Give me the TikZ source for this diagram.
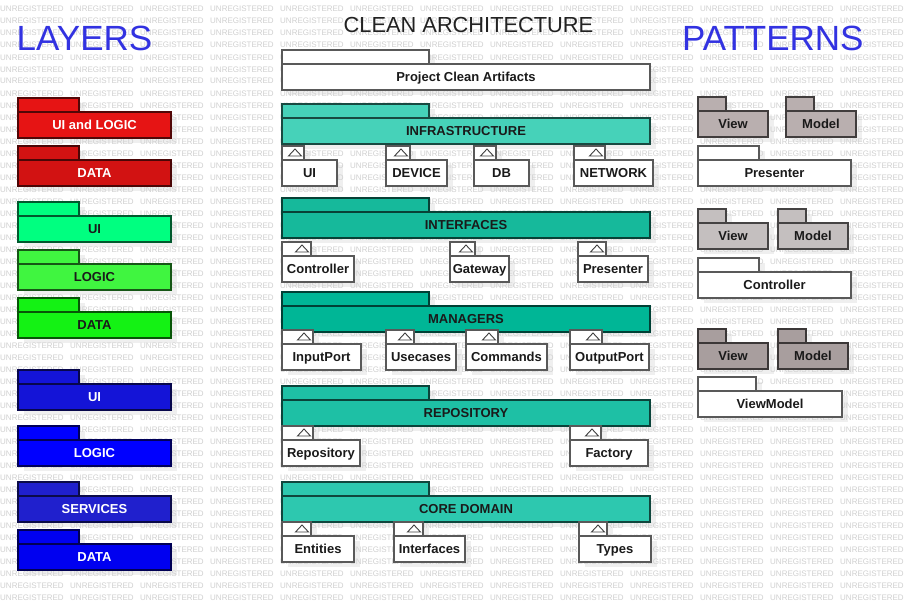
\documentclass[tikz,border=0pt]{standalone}
\usepackage{fontspec}
\setmainfont{Liberation Sans}
\setsansfont{Liberation Sans}
\usetikzlibrary{calc}
\definecolor{cRedA}{RGB}{230,20,20}
\definecolor{cRedB}{RGB}{210,18,18}
\definecolor{cGrnA}{RGB}{0,255,128}
\definecolor{cGrnB}{RGB}{64,245,64}
\definecolor{cGrnC}{RGB}{20,242,20}
\definecolor{cBluA}{RGB}{20,20,215}
\definecolor{cBluB}{RGB}{0,0,255}
\definecolor{cBluC}{RGB}{32,32,205}
\definecolor{cBluD}{RGB}{0,0,240}
\definecolor{cTealA}{RGB}{70,210,185}
\definecolor{cTealB}{RGB}{22,185,155}
\definecolor{cTealC}{RGB}{0,182,150}
\definecolor{cTealD}{RGB}{30,192,165}
\definecolor{cTealE}{RGB}{45,200,175}
\definecolor{cGrayA}{RGB}{185,175,175}
\definecolor{cGrayB}{RGB}{196,191,191}
\definecolor{cGrayC}{RGB}{168,158,158}
\definecolor{txtdark}{RGB}{26,26,26}
\definecolor{titlecol}{RGB}{34,34,34}
\definecolor{headblue}{RGB}{50,50,225}
\definecolor{wmcol}{RGB}{208,208,208}
\definecolor{shadowcol}{RGB}{239,239,239}
\pgfdeclarelayer{bg}
\pgfdeclarelayer{shadow}
\pgfdeclarelayer{wmark}
\pgfsetlayers{bg,shadow,wmark,main}
\tikzset{
  pkgtab/.style={line width=1.1pt, inner sep=0pt, outer sep=0pt, anchor=north west, minimum height=14pt},
  pkgbody/.style={line width=1.1pt, inner sep=0pt, outer sep=0pt, anchor=north west, minimum height=26pt,
    font=\sffamily\bfseries\fontsize{13}{15}\selectfont, text height=9.3pt, text depth=0pt},
  pkgshadow/.style={fill=shadowcol},
  imptri/.style={draw=black!75, line width=0.9pt, fill=white},
  wm/.style={anchor=base west, inner sep=0pt, text=wmcol, font=\sffamily\fontsize{8}{9.6}\selectfont},
  heading/.style={anchor=base, inner sep=0pt, text=headblue, font=\sffamily\fontsize{35}{40}\selectfont},
  titletext/.style={anchor=base, inner sep=0pt, text=titlecol, font=\sffamily\fontsize{21.8}{25}\selectfont}
}
% id, left, tab top, tab right, right, fill, text colour, label
\newcommand{\umlpkg}[8]{%
  \begin{pgfonlayer}{shadow}
    \fill[pkgshadow] (#2+6,#3+5) rectangle (#4+6,#3+19);
    \fill[pkgshadow] (#2+6,#3+19) rectangle (#5+6,#3+45);
  \end{pgfonlayer}
  \node[pkgtab, fill=#6, draw=#6!35!black, minimum width={(#4-#2)*1pt}] (#1-tab) at (#2,#3) {};
  \node[pkgbody, fill=#6, draw=#6!35!black, text=#7, minimum width={(#5-#2)*1pt}] (#1) at (#2,#3+14) {#8};
}
% id, left, tab top, tab right, right, label
\newcommand{\subpkg}[6]{%
  \umlpkg{#1}{#2}{#3}{#4}{#5}{white}{txtdark}{#6}
  \draw[imptri] (#4-15.5,#3+10) -- (#4-9,#3+3) -- (#4-2.5,#3+10) -- cycle;
}
\begin{document}
\begin{tikzpicture}[x=1pt,y=-1pt]
\begin{pgfonlayer}{bg}
  \fill[white] (0,0) rectangle (910,610);
\end{pgfonlayer}
\useasboundingbox (0,0) rectangle (910,610);
\begin{pgfonlayer}{wmark}
  \foreach \r in {0,...,49} {
    \foreach \c in {0,...,12} {
      \node[wm] (wm-\r-\c) at (70*\c,12+12*\r) {UNREGISTERED};
    }
  }
\end{pgfonlayer}
% headings
\node[heading] (layers) at (84.5,51) {LAYERS};
\node[heading] (patterns) at (772.8,51) {PATTERNS};
\node[titletext] (title) at (468.5,32.3) {CLEAN ARCHITECTURE};
% left column
\umlpkg{l1}{18}{98}{79}{171}{cRedA}{white}{UI and LOGIC}
\umlpkg{l2}{18}{146}{79}{171}{cRedB}{white}{DATA}
\umlpkg{l3}{18}{202}{79}{171}{cGrnA}{txtdark}{UI}
\umlpkg{l4}{18}{250}{79}{171}{cGrnB}{txtdark}{LOGIC}
\umlpkg{l5}{18}{298}{79}{171}{cGrnC}{txtdark}{DATA}
\umlpkg{l6}{18}{370}{79}{171}{cBluA}{white}{UI}
\umlpkg{l7}{18}{426}{79}{171}{cBluB}{white}{LOGIC}
\umlpkg{l8}{18}{482}{79}{171}{cBluC}{white}{SERVICES}
\umlpkg{l9}{18}{530}{79}{171}{cBluD}{white}{DATA}
% middle column
\umlpkg{pca}{282}{50}{429}{650}{white}{txtdark}{Project Clean Artifacts}
\umlpkg{infra}{282}{104}{429}{650}{cTealA}{txtdark}{INFRASTRUCTURE}
\subpkg{iui}{282}{146}{304}{337}{UI}
\subpkg{idev}{386}{146}{410}{447}{DEVICE}
\subpkg{idb}{474}{146}{496}{529}{DB}
\subpkg{inet}{574}{146}{605}{653}{NETWORK}
\umlpkg{intf}{282}{198}{429}{650}{cTealB}{txtdark}{INTERFACES}
\subpkg{fctl}{282}{242}{311}{354}{Controller}
\subpkg{fgw}{450}{242}{475}{509}{Gateway}
\subpkg{fpre}{578}{242}{606}{648}{Presenter}
\umlpkg{mgr}{282}{292}{429}{650}{cTealC}{txtdark}{MANAGERS}
\subpkg{min}{282}{330}{313}{361}{InputPort}
\subpkg{muse}{386}{330}{414}{456}{Usecases}
\subpkg{mcmd}{466}{330}{498}{547}{Commands}
\subpkg{mout}{570}{330}{602}{649}{OutputPort}
\umlpkg{repo}{282}{386}{429}{650}{cTealD}{txtdark}{REPOSITORY}
\subpkg{rrep}{282}{426}{313}{360}{Repository}
\subpkg{rfac}{570}{426}{601}{648}{Factory}
\umlpkg{core}{282}{482}{429}{650}{cTealE}{txtdark}{CORE DOMAIN}
\subpkg{cent}{282}{522}{311}{354}{Entities}
\subpkg{cint}{394}{522}{423}{465}{Interfaces}
\subpkg{ctyp}{579}{522}{607}{651}{Types}
% right column
\umlpkg{pv1}{698}{97}{726}{768}{cGrayA}{txtdark}{View}
\umlpkg{pm1}{786}{97}{814}{856}{cGrayA}{txtdark}{Model}
\umlpkg{pp}{698}{146}{759}{851}{white}{txtdark}{Presenter}
\umlpkg{pv2}{698}{209}{726}{768}{cGrayB}{txtdark}{View}
\umlpkg{pm2}{778}{209}{806}{848}{cGrayB}{txtdark}{Model}
\umlpkg{pc}{698}{258}{759}{851}{white}{txtdark}{Controller}
\umlpkg{pv3}{698}{329}{726}{768}{cGrayC}{txtdark}{View}
\umlpkg{pm3}{778}{329}{806}{848}{cGrayC}{txtdark}{Model}
\umlpkg{pvm}{698}{377}{756}{842}{white}{txtdark}{ViewModel}
\end{tikzpicture}
\end{document}
